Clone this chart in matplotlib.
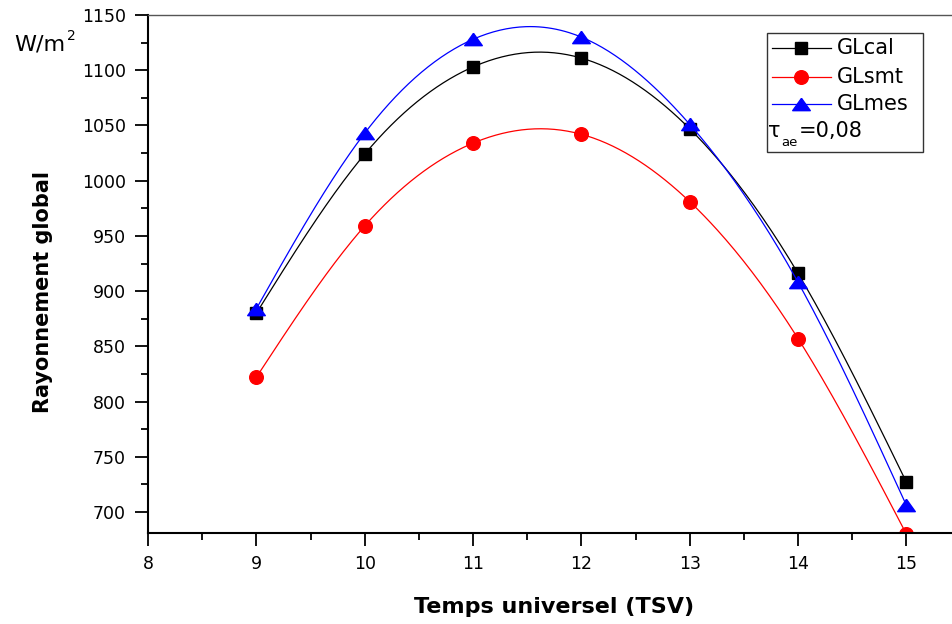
import numpy as np
import matplotlib
matplotlib.use("Agg")
import matplotlib.pyplot as plt
from matplotlib.lines import Line2D
from matplotlib.patches import Rectangle

plt.rcParams["font.family"] = ["DejaVu Sans"]

hours = [9, 10, 11, 12, 13, 14, 15]
gl_cal = [880, 1024, 1103, 1111, 1047, 916, 727]
gl_smt = [822, 959, 1034, 1042, 981, 857, 680]
gl_mes = [884, 1043, 1128, 1130, 1051, 908, 706]

# wide flat triangle like the Origin marker
TRI = [(0, 0.7), (-1, -0.7), (1, -0.7), (0, 0.7)]

series = [
    ("GLcal", gl_cal, "black", "s", 9),
    ("GLsmt", gl_smt, "red", "o", 9.8),
    ("GLmes", gl_mes, "blue", TRI, 12.7),
]

W, H = 953, 624


def natural_spline(x, y, n=300):
    # natural cubic spline through the points, used only to draw the smooth connecting line
    x = np.asarray(x, float)
    y = np.asarray(y, float)
    k = len(x)
    h = np.diff(x)
    A = np.zeros((k, k))
    b = np.zeros(k)
    A[0, 0] = A[-1, -1] = 1
    for i in range(1, k - 1):
        A[i, i - 1] = h[i - 1]
        A[i, i] = 2 * (h[i - 1] + h[i])
        A[i, i + 1] = h[i]
        b[i] = 6 * ((y[i + 1] - y[i]) / h[i] - (y[i] - y[i - 1]) / h[i - 1])
    m = np.linalg.solve(A, b)
    xs = np.linspace(x[0], x[-1], n)
    idx = np.clip(np.searchsorted(x, xs) - 1, 0, k - 2)
    x0, x1 = x[idx], x[idx + 1]
    hh = x1 - x0
    t0, t1 = x1 - xs, xs - x0
    ys = (m[idx] * t0 ** 3 + m[idx + 1] * t1 ** 3) / (6 * hh) \
        + (y[idx] / hh - m[idx] * hh / 6) * t0 + (y[idx + 1] / hh - m[idx + 1] * hh / 6) * t1
    return xs, ys


def fx(px):
    return px / W


def fy(py):
    return 1 - py / H


fig = plt.figure(figsize=(W / 100, H / 100), dpi=100)
ax = fig.add_axes([fx(148), fy(533), fx(953) - fx(148), fy(15) - fy(533)])

for name, vals, color, marker, ms in series:
    xs, ys = natural_spline(hours, vals)
    ax.plot(xs, ys, color=color, lw=0.9)
    ax.plot(hours, vals, linestyle="none", marker=marker, color=color, ms=ms)

ax.set_xlim(8, 15.43)
ax.set_ylim(681, 1150)
ax.set_xticks(range(8, 16))
ax.set_xticks(np.arange(8.5, 15.5, 1), minor=True)
ax.set_yticks(range(700, 1151, 50))
ax.set_yticks(range(725, 1150, 50), minor=True)
ax.tick_params(which="major", direction="out", length=9.5, width=1.3, labelsize=12.5, pad=6.5)
ax.tick_params(which="minor", direction="out", length=5, width=1.3)
ax.spines["right"].set_visible(False)
ax.spines["left"].set_linewidth(1.5)
ax.spines["bottom"].set_linewidth(1.5)
ax.spines["top"].set_linewidth(1.0)
ax.spines["top"].set_color("#555555")

ax.set_xlabel("Temps universel (TSV)", fontsize=16, fontweight="bold")
ax.set_ylabel("Rayonnement global", fontsize=15, fontweight="bold")
ax.xaxis.set_label_coords(0.504, -0.124)
ax.yaxis.set_label_coords(-0.118, 0.465)

fig.text(fx(14), fy(44), "W/m", fontsize=16, va="center", ha="left")
fig.text(fx(67), fy(36), "2", fontsize=10, va="center", ha="left")

# legend box drawn by hand so the tau line can sit inside it
fig.patches.append(Rectangle((fx(767), fy(152)), fx(923) - fx(767), fy(33) - fy(152),
                             transform=fig.transFigure, fill=False, edgecolor="#333333", lw=1.0))
rows = [48, 77, 104]
for (name, vals, color, marker, ms), py in zip(series, rows):
    fig.add_artist(Line2D([fx(772), fx(831)], [fy(py), fy(py)], color=color, lw=0.9,
                          transform=fig.transFigure))
    fig.add_artist(Line2D([fx(801)], [fy(py)], marker=marker, color=color, ms=ms,
                          linestyle="none", transform=fig.transFigure))
    fig.text(fx(837), fy(py), name, fontsize=15, va="center", ha="left")
fig.text(fx(768), fy(131), "τ", fontsize=15, va="center", ha="left")
fig.text(fx(781), fy(142), "ae", fontsize=9.5, va="center", ha="left")
fig.text(fx(799), fy(131), "=0,08", fontsize=15, va="center", ha="left")

fig.savefig("out.png", dpi=100)
